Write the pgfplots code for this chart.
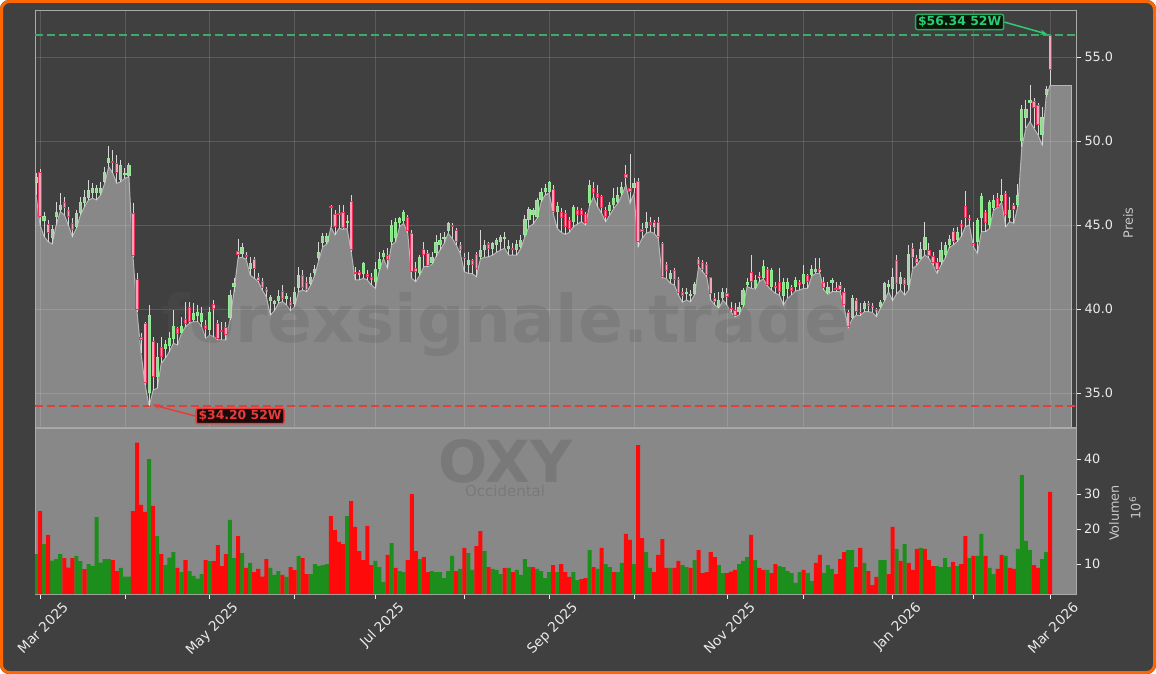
\documentclass[border=0pt]{standalone}
\usepackage{pgfplots}
\pgfplotsset{compat=1.18}
\usepackage{pgfplotstable}
\usepackage{fontspec}
\setmainfont{DejaVu Sans}
\usetikzlibrary{arrows.meta}

\definecolor{bgc}{RGB}{64,64,64}
\definecolor{orangec}{RGB}{255,102,0}
\definecolor{fillc}{RGB}{136,136,136}
\definecolor{filledge}{RGB}{182,182,182}
\definecolor{framec}{RGB}{170,170,170}
\definecolor{tickc}{RGB}{235,235,235}
\definecolor{labelc}{RGB}{200,200,200}
\definecolor{wickc}{RGB}{215,215,215}
\definecolor{upedge}{RGB}{144,238,144}
\definecolor{upfill}{RGB}{172,202,172}
\definecolor{dnedge}{RGB}{238,50,92}
\definecolor{dnfill}{RGB}{245,165,185}
\definecolor{volg}{RGB}{28,142,28}
\definecolor{volr}{RGB}{255,10,10}
\definecolor{hig}{RGB}{46,204,113}
\definecolor{higb}{RGB}{39,174,96}
\definecolor{hidash}{RGB}{58,172,100}
\definecolor{lor}{RGB}{231,60,60}
\definecolor{lodash}{RGB}{222,64,58}
\definecolor{wmc}{RGB}{89,89,89}

% i = trading day index (0 = 28 Feb 2025, 251 = 2 Mar 2026); o h l c in USD; v in millions; g = 1 green volume bar
\pgfplotstableread{
i o h l c v g
0 47.48 48.08 46.79 47.84 12.85 1
1 48.14 48.31 45.00 45.46 25.1 0
2 45.26 45.79 44.31 45.56 15.7 1
3 45.04 45.30 44.01 44.54 18.3 0
4 44.21 45.00 43.87 44.74 10.95 1
5 45.50 46.39 45.00 45.79 11.4 1
6 45.89 46.89 45.79 46.19 12.85 1
7 46.39 46.69 45.60 45.99 11.7 0
8 45.90 46.09 45.00 45.50 8.95 0
9 45.10 45.40 44.31 44.70 11.7 0
10 44.90 45.89 44.80 45.70 12.3 1
11 45.69 46.69 45.60 46.39 10.85 1
12 46.30 47.08 46.09 46.69 8.57 0
13 46.60 47.68 46.49 47.08 10.0 1
14 46.89 47.48 46.59 47.18 9.5 1
15 46.93 47.38 46.49 47.18 23.4 1
16 46.89 47.58 46.79 47.18 10.4 1
17 47.58 48.47 47.48 48.17 11.4 1
18 48.71 49.70 48.47 48.97 11.4 1
19 48.81 49.46 48.08 48.71 11.1 0
20 48.67 49.17 47.48 48.08 8.0 0
21 47.68 48.87 47.58 48.57 8.9 1
22 48.00 48.37 47.78 48.10 6.4 1
23 47.92 48.67 47.88 48.57 6.4 1
24 45.73 46.29 43.12 43.18 25.1 0
25 41.77 42.12 39.84 39.94 44.7 0
26 38.35 38.55 37.36 38.16 26.9 0
27 39.15 39.25 35.48 35.58 24.9 0
28 35.02 40.24 34.20 39.64 40.0 1
29 38.12 38.35 35.18 35.97 26.6 0
30 35.97 37.96 35.28 37.16 18.0 1
31 37.76 38.35 36.77 37.16 12.85 0
32 37.60 38.16 37.06 37.90 9.7 1
33 37.80 38.65 37.46 38.30 11.8 1
34 38.20 39.94 37.96 39.00 13.4 1
35 38.85 38.95 37.86 38.50 8.9 0
36 38.60 39.55 38.55 39.00 7.7 1
37 39.40 40.44 38.95 39.10 11.1 0
38 40.14 40.44 39.15 39.25 8.0 1
39 39.35 40.34 39.25 39.78 6.6 1
40 39.58 40.24 39.25 39.84 5.8 1
41 39.25 40.14 38.95 39.74 7.1 1
42 39.05 39.35 38.25 38.79 11.1 0
43 38.75 40.14 38.45 39.84 10.85 1
44 40.30 40.54 38.35 39.98 10.85 0
45 39.15 39.35 38.16 38.20 15.4 0
46 38.75 39.25 38.16 38.65 9.4 0
47 38.91 39.25 38.16 38.45 12.85 0
48 39.45 41.13 39.35 40.83 22.6 1
49 41.29 41.83 41.03 41.53 11.7 1
50 43.45 44.15 43.02 43.22 18.0 0
51 43.27 43.91 43.08 43.67 13.1 1
52 43.17 43.41 42.96 43.12 8.9 0
53 42.36 43.12 42.02 42.72 10.3 1
54 42.98 43.12 41.83 42.36 7.7 0
55 41.93 42.12 41.63 41.69 8.6 0
56 41.65 41.83 41.13 41.23 6.4 0
57 41.20 41.33 40.73 41.00 11.4 0
58 40.45 40.83 39.64 40.70 8.9 1
59 40.30 40.54 39.90 40.50 6.9 1
60 40.50 41.13 40.34 40.80 8.0 1
61 41.10 41.43 40.44 40.60 6.9 0
62 40.60 40.93 40.24 40.80 6.3 1
63 40.40 40.73 39.90 40.20 9.1 0
64 40.30 41.33 40.14 41.00 8.3 0
65 41.23 42.52 41.03 42.02 12.3 1
66 42.02 42.32 41.13 41.23 11.7 0
67 41.63 41.93 41.03 41.13 7.1 0
68 41.49 42.12 41.43 41.89 7.1 1
69 42.12 42.62 42.02 42.40 10.0 1
70 43.02 44.01 42.92 43.41 9.5 1
71 43.91 44.50 43.71 44.37 9.7 1
72 44.01 44.50 43.87 44.35 10.0 1
73 46.09 46.19 44.86 46.00 23.7 0
74 45.66 45.89 44.41 44.86 19.7 0
75 45.69 46.19 44.80 45.60 16.3 0
76 45.79 46.19 44.74 44.80 15.7 0
77 45.16 45.60 44.80 45.24 23.7 1
78 46.45 46.79 43.41 43.51 28.0 0
79 42.18 42.52 41.73 42.06 20.6 0
80 42.20 42.32 41.73 42.00 13.7 0
81 42.08 42.82 41.83 42.72 11.1 0
82 42.10 42.32 41.73 41.90 20.9 0
83 41.90 42.12 41.43 41.70 9.7 0
84 41.60 42.82 41.23 42.40 10.9 1
85 42.40 43.41 42.32 43.00 9.1 1
86 43.10 43.50 43.00 43.35 4.9 1
87 43.21 43.61 42.42 42.91 12.6 0
88 44.00 45.30 43.81 45.00 16.0 1
89 44.20 45.40 44.00 45.20 8.9 0
90 45.10 45.50 44.90 45.40 8.0 1
91 45.24 45.89 45.10 45.79 7.7 1
92 45.45 45.59 44.50 44.64 11.1 0
93 44.50 44.70 41.82 42.22 30.0 0
94 42.46 42.82 41.63 42.18 13.7 0
95 42.12 43.21 42.02 43.11 11.4 1
96 43.55 44.01 42.52 43.21 12.0 0
97 43.31 43.51 42.52 42.58 7.7 0
98 42.72 43.41 42.66 43.11 8.0 1
99 43.31 44.40 43.11 43.97 7.7 1
100 43.81 44.50 43.51 44.11 7.7 1
101 44.20 44.60 43.90 44.30 6.0 1
102 44.64 45.20 44.50 45.10 8.0 1
103 45.00 45.10 44.20 44.90 12.3 1
104 44.68 44.80 43.81 44.01 8.0 0
105 43.80 44.00 43.31 43.50 8.6 1
106 43.11 43.31 42.22 42.98 14.6 0
107 42.60 43.41 42.12 42.90 13.1 1
108 42.90 43.00 42.10 42.60 8.3 1
109 43.30 43.41 41.92 42.40 15.1 0
110 43.10 44.70 43.00 43.50 19.4 0
111 43.50 44.10 43.07 43.80 13.7 1
112 43.90 44.00 43.11 43.60 9.1 0
113 43.60 44.00 43.21 43.90 8.6 1
114 43.80 44.20 43.37 44.10 8.3 1
115 44.00 44.40 43.51 44.30 7.1 1
116 44.20 44.60 43.61 44.30 8.9 0
117 43.57 44.10 43.21 43.75 8.9 1
118 43.61 43.91 43.21 43.49 7.7 0
119 43.51 44.10 43.21 43.85 8.3 1
120 43.71 44.40 43.61 44.11 6.9 1
121 44.40 45.59 44.30 45.36 11.4 1
122 45.30 46.09 44.90 45.95 9.1 1
123 45.60 46.00 45.05 45.90 9.1 0
124 45.49 46.59 45.39 46.49 8.6 1
125 46.49 47.18 46.35 46.98 8.0 1
126 46.98 47.42 46.78 47.22 6.0 1
127 46.94 47.62 46.90 47.58 7.7 1
128 47.12 47.38 45.69 45.79 9.7 0
129 45.79 46.39 44.80 46.15 7.7 1
130 45.75 45.99 44.56 45.43 10.0 0
131 45.69 45.89 44.44 44.90 7.7 0
132 45.30 45.49 44.56 44.76 6.3 0
133 45.20 46.19 44.90 46.07 7.7 1
134 45.90 46.09 45.06 45.60 5.4 1
135 45.90 45.99 45.20 45.60 5.7 0
136 45.63 45.79 45.00 45.10 6.0 0
137 46.30 47.68 46.15 47.40 14.0 1
138 47.20 47.58 46.68 46.90 9.1 0
139 46.90 47.38 46.09 46.60 8.6 1
140 46.70 46.78 45.69 46.00 14.6 0
141 45.90 46.09 45.20 45.50 10.0 1
142 45.83 46.39 45.59 46.19 9.1 1
143 46.20 47.18 45.99 46.60 7.7 0
144 46.39 47.28 46.29 46.78 7.7 1
145 46.88 47.58 46.78 47.28 10.3 1
146 48.01 48.57 47.38 47.82 18.6 0
147 47.18 49.20 46.29 46.98 16.9 0
148 47.22 47.78 46.88 47.48 10.0 1
149 47.62 47.78 43.71 44.01 44.0 0
150 44.76 45.10 44.20 44.60 17.4 0
151 44.80 45.79 44.50 45.16 13.4 1
152 45.14 45.49 44.60 45.04 8.9 1
153 45.20 45.30 44.50 44.84 7.7 0
154 45.16 45.49 44.20 44.30 12.6 0
155 43.91 44.00 41.86 41.92 17.1 0
156 42.66 42.82 41.82 42.26 8.9 0
157 41.78 42.32 41.53 42.12 8.9 1
158 42.30 42.42 41.43 41.72 8.9 0
159 41.78 41.92 40.83 40.93 10.9 0
160 41.00 41.23 40.40 40.80 9.7 1
161 40.90 41.23 40.53 41.00 9.1 1
162 40.80 41.13 40.43 40.90 8.9 0
163 40.90 41.63 40.85 41.50 11.1 1
164 43.00 43.11 42.52 42.60 14.0 0
165 42.80 42.91 42.22 42.30 7.4 0
166 42.70 42.82 41.92 42.00 7.7 0
167 41.90 41.92 40.53 40.90 13.4 0
168 40.63 40.93 40.24 40.43 12.0 0
169 40.14 41.03 40.04 40.53 9.7 1
170 40.63 41.23 40.53 41.03 7.4 1
171 40.93 41.23 40.24 40.74 7.4 0
172 40.08 40.44 39.80 39.92 7.8 0
173 39.94 40.34 39.55 39.60 8.3 0
174 39.80 40.44 39.64 40.14 10.0 1
175 40.24 41.23 40.14 41.13 10.9 1
176 41.43 41.83 41.33 41.63 12.0 1
177 42.22 43.21 41.23 41.63 18.3 0
178 41.23 42.02 41.19 41.73 11.1 1
179 41.98 42.22 41.63 41.83 8.9 0
180 41.87 42.92 41.79 42.58 8.3 0
181 42.38 42.52 41.38 41.43 8.3 1
182 41.33 42.42 41.13 42.32 7.4 0
183 41.37 41.63 40.93 41.23 10.0 0
184 41.59 42.42 40.83 41.03 9.4 1
185 40.80 41.83 40.24 41.60 9.1 1
186 41.20 41.83 40.63 41.60 8.0 1
187 41.30 41.43 40.83 41.10 7.4 1
188 41.30 41.93 41.07 41.70 4.6 1
189 41.60 41.70 41.13 41.40 7.7 1
190 41.50 42.62 41.23 42.10 8.3 0
191 42.00 42.10 41.23 41.60 7.4 1
192 42.00 42.62 41.95 42.40 5.1 1
193 42.20 43.02 42.12 42.40 10.3 0
194 42.36 43.02 42.12 42.22 12.6 0
195 41.63 41.93 41.13 41.23 7.4 1
196 40.93 41.63 40.87 41.33 9.7 1
197 41.53 41.83 41.03 41.73 8.6 1
198 41.23 41.63 41.03 41.13 7.1 0
199 41.43 41.63 41.03 41.13 11.4 0
200 41.03 41.23 40.14 40.24 13.4 0
201 39.84 39.94 38.89 38.95 14.0 1
202 39.44 40.83 39.40 40.64 14.0 1
203 40.54 40.64 39.64 39.80 9.1 0
204 39.84 40.34 39.60 39.68 14.6 0
205 40.00 40.48 39.84 40.34 10.3 1
206 40.34 40.48 39.84 40.20 8.0 0
207 40.18 40.34 39.80 40.04 4.0 0
208 40.00 40.05 39.55 39.80 6.3 0
209 40.14 40.54 40.04 40.44 11.1 1
210 40.54 41.63 40.48 41.53 11.1 1
211 41.30 41.70 41.03 41.50 7.1 0
212 41.20 42.42 40.50 41.90 20.6 0
213 42.90 43.21 40.90 41.50 14.3 1
214 41.50 42.22 41.13 41.90 10.9 0
215 41.80 41.85 40.83 41.40 15.7 1
216 41.40 43.81 41.13 43.30 10.3 0
217 43.61 43.91 42.42 43.02 8.3 0
218 43.06 43.21 42.60 42.72 14.3 0
219 43.00 44.01 42.95 43.60 14.6 1
220 43.51 45.16 43.21 44.31 14.3 0
221 43.51 43.91 43.02 43.18 11.1 0
222 43.15 43.41 42.62 42.72 9.4 0
223 42.82 43.02 42.12 42.32 9.4 1
224 42.78 44.01 42.62 43.51 9.1 1
225 43.20 44.01 43.02 43.80 11.7 1
226 43.81 44.41 43.65 44.15 9.1 1
227 44.66 44.80 43.81 43.97 10.6 0
228 44.11 44.90 44.01 44.56 9.4 1
229 45.04 45.30 44.31 44.88 10.0 0
230 46.15 47.02 44.90 45.44 18.0 0
231 45.44 45.60 45.00 45.30 11.7 1
232 43.91 45.20 43.71 43.77 12.3 0
233 44.01 45.40 43.31 45.30 12.3 1
234 45.40 46.89 44.60 46.73 18.6 1
235 45.75 45.89 44.60 45.10 12.3 0
236 45.00 46.49 44.80 46.35 8.9 1
237 46.00 46.79 45.89 46.50 7.1 1
238 46.60 46.89 46.05 46.10 8.6 0
239 46.40 47.72 46.35 46.80 12.6 0
240 46.90 47.02 44.90 45.60 12.3 1
241 45.40 46.69 45.20 45.90 8.9 0
242 46.20 46.29 45.10 45.90 8.6 0
243 46.20 47.42 46.10 46.80 14.3 1
244 50.00 52.14 49.66 51.90 35.4 1
245 51.39 52.44 50.75 51.90 16.6 1
246 52.24 53.33 51.15 52.44 14.0 1
247 52.38 52.54 50.75 51.94 9.7 0
248 52.14 52.24 50.36 50.95 8.9 0
249 50.36 52.04 49.76 51.45 11.4 1
250 52.74 53.30 52.64 53.10 13.4 1
251 56.31 56.34 53.33 54.23 30.6 0
}\data

\pgfplotsset{
  ebar/.style 2 args={draw=none, mark=none, forget plot,
    error bars/.cd, y dir=both, y explicit, error mark=none,
    error bar style={draw=#1, line width=#2, solid}},
}

\begin{document}
\begin{tikzpicture}
\useasboundingbox (0pt,0pt) rectangle (1156pt,-674pt);
\fill[white] (0pt,0pt) rectangle (1156pt,-674pt);
\fill[bgc, rounded corners=9pt] (0pt,0pt) rectangle (1156pt,-674pt);
\draw[orangec, line width=3pt, rounded corners=8pt] (1.5pt,-1.5pt) rectangle (1154.5pt,-672.5pt);

% ---------------- price panel ----------------
\begin{axis}[
  at={(35pt,-11pt)}, anchor=north west,
  width=1041pt, height=416pt, scale only axis,
  xmin=-0.25, xmax=257.4, ymin=32.976, ymax=57.74,
  axis background/.style={fill=bgc},
  axis line style={framec, line width=1pt},
  xtick=\empty,
  ytick={35,40,45,50,55},
  ytick pos=right, yticklabel pos=right,
  tick align=outside, major tick length=5pt,
  tick style={tickc, line width=0.8pt},
  /pgf/number format/assume math mode=true,
  yticklabel style={font=\fontsize{12.8}{14}\selectfont, text=tickc,
    /pgf/number format/fixed, /pgf/number format/fixed zerofill,
    /pgf/number format/precision=1},
  no markers,
]
% area under the daily lows
\addplot[draw=none, fill=fillc] table[x=i,y=l]{\data} \closedcycle;
\addplot[draw=none, fill=fillc] coordinates {(251,53.33) (256.2,53.33)} \closedcycle;
\addplot[filledge, line width=1pt] table[x=i,y=l]{\data};
\addplot[filledge, line width=1pt] coordinates {(251,53.33) (256.2,53.33) (256.2,32.976)};
% grid
\pgfplotsinvokeforeach{1,22,43,64,84,106,127,148,171,190,212,232,251}{
  \draw[white, opacity=0.14, line width=0.8pt] (axis cs:#1,32.976) -- (axis cs:#1,57.74);}
\pgfplotsinvokeforeach{35,40,45,50,55}{
  \draw[white, opacity=0.14, line width=0.8pt] (axis cs:-0.25,#1) -- (axis cs:257.4,#1);}
% watermark
\node[text=wmc, opacity=0.22, font=\fontsize{66}{66}\selectfont\bfseries] at (axis cs:116.1,39.1) {forexsignale.trade};
% 52W lines
\draw[hidash, line width=2pt, dash pattern=on 8pt off 4pt] (axis cs:-0.25,56.34) -- (axis cs:257.4,56.34);
\draw[lodash, line width=2pt, dash pattern=on 8pt off 4pt] (axis cs:-0.25,34.20) -- (axis cs:257.4,34.20);
% wicks
\addplot[ebar={wickc}{0.9pt}] table[x=i, y expr={(\thisrow{h}+\thisrow{l})/2}, y error expr={(\thisrow{h}-\thisrow{l})/2}]{\data};
% up bodies
\addplot[restrict expr to domain={\thisrow{c}-\thisrow{o}}{0:100}, ebar={upedge}{3.2pt}]
  table[x=i, y expr={(\thisrow{o}+\thisrow{c})/2}, y error expr={max(abs(\thisrow{c}-\thisrow{o})/2,0.06)}]{\data};
\addplot[restrict expr to domain={\thisrow{c}-\thisrow{o}}{0:100}, ebar={upfill}{1.5pt}]
  table[x=i, y expr={(\thisrow{o}+\thisrow{c})/2}, y error expr={max(abs(\thisrow{c}-\thisrow{o})/2-0.06,0)}]{\data};
% down bodies
\addplot[restrict expr to domain={\thisrow{c}-\thisrow{o}}{-100:0}, ebar={dnedge}{3.2pt}]
  table[x=i, y expr={(\thisrow{o}+\thisrow{c})/2}, y error expr={max(abs(\thisrow{c}-\thisrow{o})/2,0.06)}]{\data};
\addplot[restrict expr to domain={\thisrow{c}-\thisrow{o}}{-100:0}, ebar={dnfill}{1.5pt}]
  table[x=i, y expr={(\thisrow{o}+\thisrow{c})/2}, y error expr={max(abs(\thisrow{c}-\thisrow{o})/2-0.06,0)}]{\data};
% annotations
\node[draw=higb, fill={rgb,255:red,8;green,22;blue,12}, text=hig, line width=1.5pt, rounded corners=2pt,
  inner xsep=2.5pt, inner ysep=2pt, font=\fontsize{12.4}{14}\selectfont\bfseries] (hb) at (axis cs:228.6,57.08) {\$56.34 52W};
\draw[hig, line width=1.5pt, -{Stealth[length=7pt,width=5pt]}] (hb.east) -- (axis cs:250.3,56.36);
\node[draw=lor, fill={rgb,255:red,26;green,10;blue,10}, text=lor, line width=1.5pt, rounded corners=2pt,
  inner xsep=2.5pt, inner ysep=2pt, font=\fontsize{12.4}{14}\selectfont\bfseries] (lb) at (axis cs:50.5,33.63) {\$34.20 52W};
\draw[lor, line width=1.5pt, -{Stealth[length=7pt,width=5pt]}] (lb.west) -- (axis cs:28.8,34.3);
\end{axis}

% ---------------- volume panel ----------------
\begin{axis}[
  at={(35pt,-428pt)}, anchor=north west,
  width=1041pt, height=166pt, scale only axis,
  xmin=-0.25, xmax=257.4, ymin=1.43, ymax=48.86,
  axis background/.style={fill=fillc},
  axis line style={framec, line width=1pt},
  xtick={1,22,43,64,84,106,127,148,171,190,212,232,251},
  xticklabels={Mar 2025,,May 2025,,Jul 2025,,Sep 2025,,Nov 2025,,Jan 2026,,Mar 2026},
  xtick pos=bottom,
  ytick={10,20,30,40},
  ytick pos=right, yticklabel pos=right,
  tick align=outside, major tick length=4.5pt,
  tick style={tickc, line width=0.8pt},
  /pgf/number format/assume math mode=true,
  yticklabel style={font=\fontsize{12.8}{14}\selectfont, text=tickc},
  xticklabel style={font=\fontsize{13.6}{15}\selectfont, text=tickc, rotate=45, anchor=north east, xshift=17pt, yshift=-14pt},
  no markers,
]
\node[text=wmc, opacity=0.3, font=\fontsize{58}{58}\selectfont\bfseries] at (axis cs:116.1,39.3) {OXY};
\node[text=wmc, opacity=0.3, font=\fontsize{15}{16}\selectfont] at (axis cs:116.1,30.9) {Occidental};
\addplot[ybar, bar width=1, bar shift=0pt, fill=volg, draw=none, restrict expr to domain={\thisrow{g}}{0.5:1.5}]
  table[x=i,y=v]{\data};
\addplot[ybar, bar width=1, bar shift=0pt, fill=volr, draw=none, restrict expr to domain={\thisrow{g}}{-0.5:0.5}]
  table[x=i,y=v]{\data};
\end{axis}

\node[rotate=90, text=labelc, font=\fontsize{12.8}{14}\selectfont] at (1128pt,-223pt) {Preis};
\node[rotate=90, text=labelc, font=\fontsize{12.8}{14}\selectfont] at (1114pt,-513pt) {Volumen};
\node[rotate=90, text=labelc, font=\fontsize{12.8}{14}\selectfont] at (1135pt,-508pt) {10\textsuperscript{6}};
\end{tikzpicture}
\end{document}
